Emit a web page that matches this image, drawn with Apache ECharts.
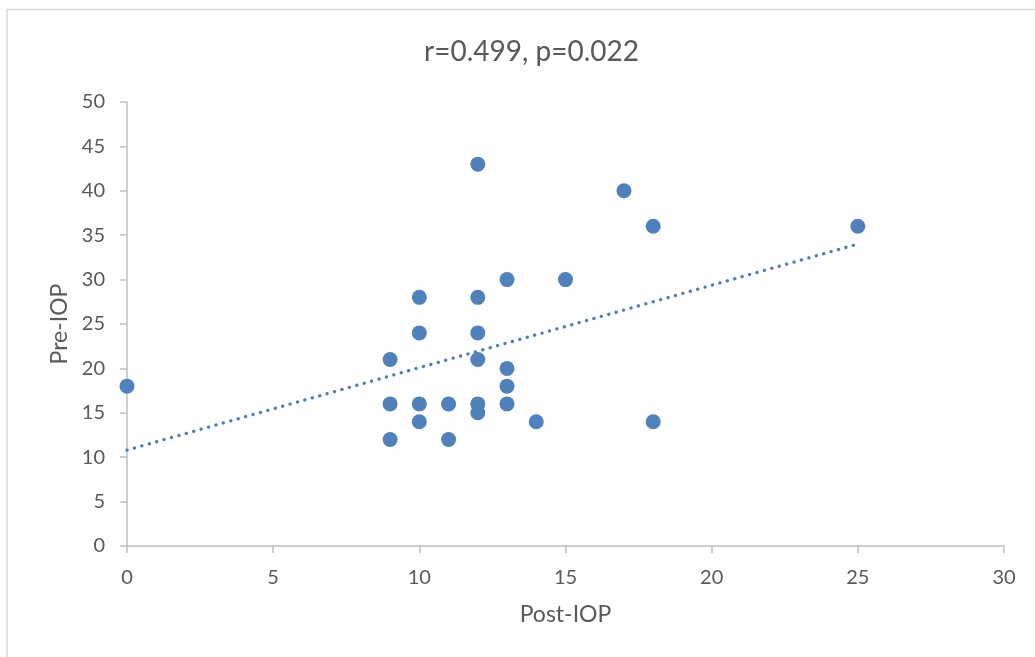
<!DOCTYPE html>
<html><head><meta charset="utf-8">
<script src="https://cdn.jsdelivr.net/npm/echarts@6/dist/echarts.min.js"></script>
<style>html,body{margin:0;padding:0;background:#fff}#c{width:1035px;height:657px}</style>
</head><body><div id="c"></div>
<script>
const titleText = "r=0.499, p=0.022";
const xName = "Post-IOP";
const yName = "Pre-IOP";
const postIOP = [0, 9, 9, 9, 10, 10, 10, 10, 11, 11, 12, 12, 12, 12, 12, 12, 13, 13, 13, 13, 14, 15, 17, 18, 18, 25];
const preIOP  = [18, 21, 16, 12, 28, 24, 16, 14, 16, 12, 43, 28, 24, 21, 16, 15, 30, 20, 18, 16, 14, 30, 40, 36, 14, 36];
const trendX = [0, 25];
const trendY = [10.8, 34.0];

const pts = postIOP.map((x, i) => [x, preIOP[i]]);
const trend = trendX.map((x, i) => [x, trendY[i]]);
const font = "Lato, 'Open Sans', sans-serif";
const chart = echarts.init(document.getElementById('c'), null, {renderer: 'canvas'});
chart.setOption({
  animation: false,
  backgroundColor: '#fff',
  graphic: [{type: 'rect', shape: {x: 7, y: 9.5, width: 1100, height: 700}, style: {fill: 'none', stroke: '#d9d9d9', lineWidth: 1.5}}],
  title: {text: titleText, left: 419, top: 33, textStyle: {fontFamily: font, fontSize: 28, fontWeight: 'normal', color: '#595959'}},
  grid: {left: 127, right: 31, top: 102, bottom: 111},
  xAxis: {
    type: 'value', min: 0, max: 30, interval: 5,
    name: xName, nameLocation: 'middle', nameGap: 57,
    nameTextStyle: {fontFamily: font, fontSize: 23, color: '#595959'},
    axisLine: {show: true, lineStyle: {color: '#bfbfbf', width: 1.5}},
    axisTick: {show: true, length: 7, inside: false, lineStyle: {color: '#bfbfbf', width: 1.5}},
    axisLabel: {fontFamily: font, fontSize: 20, color: '#595959', margin: 22},
    splitLine: {show: false}
  },
  yAxis: {
    type: 'value', min: 0, max: 50, interval: 5,
    name: yName, nameLocation: 'middle', nameGap: 55, nameRotate: 90,
    nameTextStyle: {fontFamily: font, fontSize: 23, color: '#595959'},
    axisLine: {show: true, lineStyle: {color: '#bfbfbf', width: 1.5}},
    axisTick: {show: true, length: 7, lineStyle: {color: '#bfbfbf', width: 1.5}},
    axisLabel: {fontFamily: font, fontSize: 20, color: '#595959', margin: 22},
    splitLine: {show: false}
  },
  series: [
    {type: 'line', data: trend, symbol: 'none', z: 1,
     lineStyle: {color: '#4a7ebb', width: 3.3, type: [0.1, 7.6], cap: 'round'}},
    {type: 'scatter', data: pts, symbol: 'circle', symbolSize: 15, z: 2,
     itemStyle: {color: '#4f81bd', opacity: 1}}
  ]
});
</script></body></html>
